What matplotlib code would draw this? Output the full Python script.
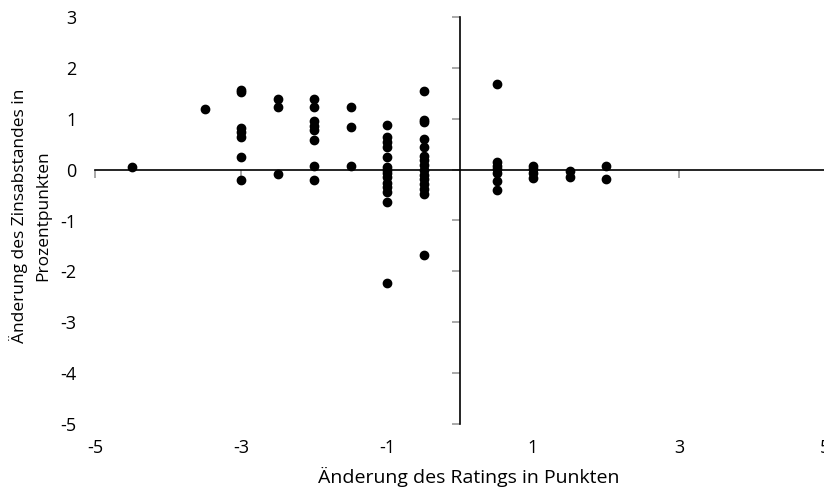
import matplotlib
matplotlib.use("Agg")
import matplotlib.pyplot as plt

plt.rcParams['font.family'] = ['Open Sans', 'DejaVu Sans']
plt.rcParams['axes.unicode_minus'] = False

# change of rating (x) and change of spread (y), grouped by x value
rating_steps = [-4.5, -3.5, -3, -2.5, -2, -1.5, -1, -0.5, 0.5, 1, 1.5, 2]
spread_changes = [
    [0.06],
    [1.2],
    [1.56, 1.52, 0.82, 0.74, 0.65, 0.24, -0.21],
    [1.39, 1.24, -0.08],
    [1.39, 1.24, 0.95, 0.85, 0.78, 0.58, 0.08, -0.2],
    [1.23, 0.83, 0.07],
    [0.88, 0.65, 0.55, 0.45, 0.25, 0.06, 0.0, -0.06, -0.15, -0.27, -0.35, -0.43, -0.63, -2.22],
    [1.54, 0.97, 0.93, 0.6, 0.45, 0.27, 0.18, 0.1, 0.0, -0.1, -0.18, -0.28, -0.38, -0.48, -1.68],
    [1.69, 0.15, 0.08, 0.01, -0.06, -0.23, -0.41],
    [0.08, 0.02, -0.06, -0.17],
    [-0.03, -0.14],
    [0.08, -0.18],
]
x_ticks = [-5, -3, -1, 1, 3, 5]
y_ticks = [-5, -4, -3, -2, -1, 0, 1, 2, 3]

xs = []
ys = []
for step, vals in zip(rating_steps, spread_changes):
    for v in vals:
        xs.append(step)
        ys.append(v)

fig = plt.figure(figsize=(8.24, 4.9), dpi=100)
ax = fig.add_axes([95 / 824, 66 / 490, 730 / 824, 407 / 490])

ax.scatter(xs, ys, s=36, color='black', zorder=3, clip_on=False)

ax.set_xlim(-5, 5)
ax.set_ylim(-5, 3)

# axes crossing at zero drawn with right/top spines
ax.spines['left'].set_visible(False)
ax.spines['bottom'].set_visible(False)
ax.spines['right'].set_position(('data', 0))
ax.spines['top'].set_position(('data', 0))
ax.spines['right'].set_linewidth(1.2)
ax.spines['top'].set_linewidth(1.2)

ax.set_xticks(x_ticks)
ax.set_yticks(y_ticks)
ax.xaxis.set_ticks_position('both')
ax.yaxis.set_ticks_position('both')
ax.tick_params(axis='x', which='both', top=True, bottom=False, labeltop=False,
               labelbottom=True, direction='in', length=6, color='#999999',
               width=1.2, pad=11, labelsize=13)
ax.tick_params(axis='y', which='both', right=True, left=False, labelright=False,
               labelleft=True, direction='in', length=6, color='#999999',
               width=1.2, pad=13.5, labelsize=13)

fig.text(30 / 824, 1 - 216 / 490, 'Änderung des Zinsabstandes in\nProzentpunkten',
         rotation=90, ha='center', va='center', multialignment='center',
         fontsize=12.5, linespacing=1.6)
fig.text(469 / 824, 1 - 477 / 490, 'Änderung des Ratings in Punkten',
         ha='center', va='center', fontsize=14)

fig.savefig('out.png', dpi=100)
